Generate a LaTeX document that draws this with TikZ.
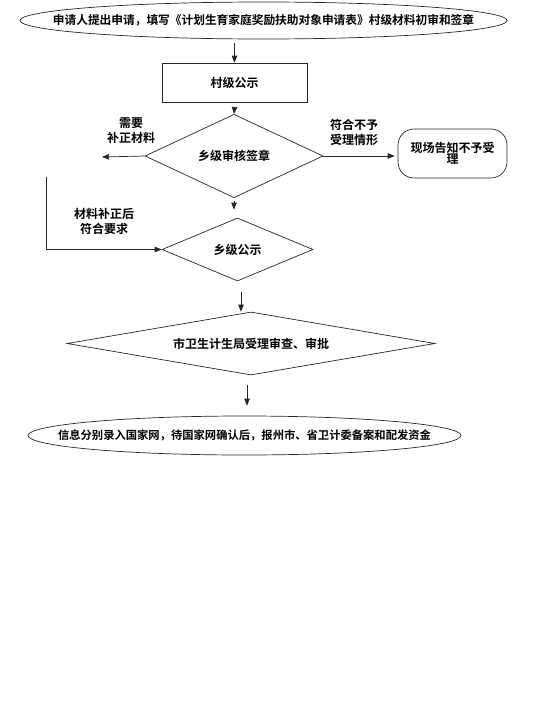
\documentclass[tikz,border=0pt]{standalone}
\usepackage{fontspec}
\newfontfamily\cjk{Noto Sans CJK SC Bold}
\usetikzlibrary{shapes.geometric,arrows.meta}
\begin{document}
\begin{tikzpicture}[x=1pt,y=-1pt,
  every node/.style={font=\cjk\fontsize{12}{13}\selectfont, text=black},
  ln/.style={draw=black!85, line width=0.7pt},
  arr/.style={ln, -{Triangle[length=7pt,width=5.5pt]}},
  oval/.style={ln, ellipse, inner sep=0pt},
  dia/.style={ln, diamond, inner sep=0pt},
  boxstyle/.style={ln, rectangle, inner sep=0pt},
  rbox/.style={ln, rectangle, rounded corners=16pt, inner sep=0pt, align=center},
  lab/.style={align=center, inner sep=0pt, font=\cjk\fontsize{12}{15}\selectfont}
]
\useasboundingbox (0,0) rectangle (551,707);
\node[oval, minimum width=487, minimum height=37, font=\cjk\fontsize{11.7}{13}\selectfont] (top) at (263.5,20.5)
  {\makebox[0pt][c]{申请人提出申请，填写《计划生育家庭奖励扶助对象申请表》村级材料初审和签章}};
\node[boxstyle, minimum width=145, minimum height=39] (box) at (234.5,82.5) {村级公示};
\node[dia, minimum width=178, minimum height=62] (d1) at (234,156) {乡级审核签章};
\node[rbox, minimum width=109, minimum height=49] (rb) at (452.5,153.5) {现场告知不予受\\[-2pt]理};
\node[dia, minimum width=151, minimum height=63] (d2) at (237.5,249.5) {乡级公示};
\node[dia, minimum width=368, minimum height=63] (d3) at (251,343.5) {\makebox[0pt][c]{市卫生计生局受理审查、审批}};
\node[oval, minimum width=433, minimum height=39, font=\cjk\fontsize{11.3}{13}\selectfont] (bot) at (244.5,435.5)
  {\makebox[0pt][c]{信息分别录入国家网，待国家网确认后，报州市、省卫计委备案和配发资金}};

\coordinate (lend) at (102,157);
\coordinate (fb) at (46,177);
\node[lab] (l1) at (131,131) {需要\\补正材料};
\node[lab] (l2) at (354,132) {符合不予\\受理情形};
\node[lab] (l3) at (104,221) {材料补正后\\符合要求};

\draw[arr] ([yshift=-4pt]box.north |- top.south) -- (box.north);
\draw[arr] ([yshift=-5pt]box.south) -- (d1.north);
\draw[arr] (d1.west) -- (lend);
\draw[arr] (d1.east) -- ([xshift=-3pt]d1.east -| rb.west);
\draw[arr] ([yshift=-3pt]d1.south) -- ([yshift=8pt]d1.south |- d2.north);
\draw[arr] (fb) |- (d2.west);
\draw[arr] ([xshift=3.5pt,yshift=-11pt]d2.south) -- ([xshift=-10pt]d3.north);
\draw[arr] ([xshift=-4pt,yshift=-10pt]d3.south) -- ([xshift=2.5pt,yshift=10pt]bot.north);
\end{tikzpicture}
\end{document}
